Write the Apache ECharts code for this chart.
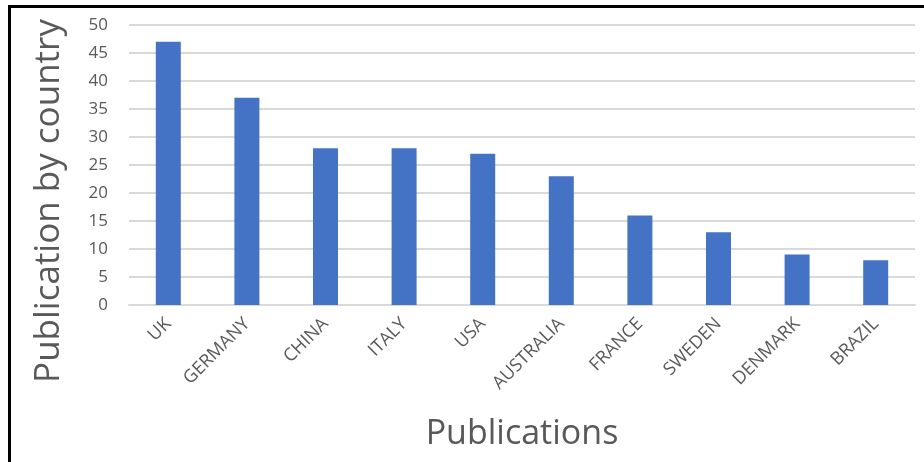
<!DOCTYPE html>
<html>
<head>
<meta charset="utf-8">
<script src="https://cdn.jsdelivr.net/npm/echarts@6/dist/echarts.min.js"></script>
<style>
  html, body { margin: 0; padding: 0; background: #fff; }
  #chart { width: 924px; height: 462px; }
</style>
</head>
<body>
<div id="chart"></div>
<script>
// data
const countries = ['UK', 'GERMANY', 'CHINA', 'ITALY', 'USA', 'AUSTRALIA', 'FRANCE', 'SWEDEN', 'DENMARK', 'BRAZIL']
const publications = [47, 37, 28, 28, 27, 23, 16, 13, 9, 8]

const chart = echarts.init(document.getElementById('chart'))
const font = 'Open Sans, Calibri, sans-serif'

const option = {
  animation: false,
  backgroundColor: '#fff',
  grid: {
    left: 129,
    right: 9,
    top: 25,
    bottom: 157,
    outerBoundsMode: 'none',
    containLabel: false
  },
  graphic: [
    // frame: left and top edges only
    { type: 'rect', left: 8, top: 5, shape: { width: 3, height: 457 }, style: { fill: '#000' } },
    { type: 'rect', left: 8, top: 5, shape: { width: 916, height: 3 }, style: { fill: '#000' } }
  ],
  xAxis: {
    type: 'category',
    data: countries,
    name: 'Publications',
    nameLocation: 'middle',
    nameGap: 112,
    nameTextStyle: { fontSize: 34, color: '#595959', fontFamily: font },
    axisLine: { lineStyle: { color: '#d9d9d9', width: 2 } },
    axisTick: { show: false },
    axisLabel: {
      rotate: 45,
      interval: 0,
      margin: 16,
      fontSize: 18,
      color: '#595959',
      fontFamily: font
    }
  },
  yAxis: {
    type: 'value',
    min: 0,
    max: 50,
    interval: 5,
    name: 'Publication by country',
    nameLocation: 'middle',
    nameGap: 62,
    // right padding pushes the rotated title down to where the reference has it
    nameTextStyle: { fontSize: 35, color: '#595959', fontFamily: font, padding: [0, 72, 0, 0] },
    axisLine: { show: false },
    axisTick: { show: false },
    axisLabel: { fontSize: 17, color: '#595959', margin: 21, fontFamily: font },
    splitLine: { lineStyle: { color: '#d9d9d9', width: 2 } }
  },
  series: [
    {
      type: 'bar',
      data: publications,
      barWidth: 25,
      itemStyle: { color: '#4472c4' }
    }
  ]
}

chart.setOption(option)
</script>
</body>
</html>
